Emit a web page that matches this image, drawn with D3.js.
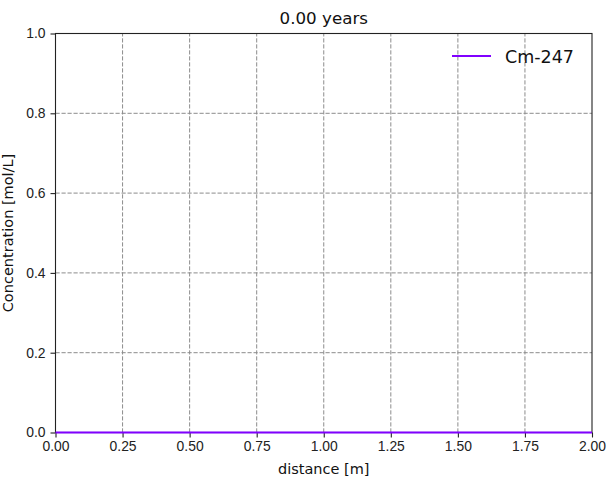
<!DOCTYPE html>
<html>
<head>
<meta charset="utf-8">
<script src="https://cdn.jsdelivr.net/npm/d3@7"></script>
<style>
  body { margin: 0; background: #fff; }
  svg { font-family: "DejaVu Sans", sans-serif; }
  .grid line { stroke: #8c8c8c; stroke-dasharray: 4.2,1.8; stroke-width: 1; }
  .tick text { font-size: 13.9px; fill: #222; }
</style>
</head>
<body>
<svg id="chart" width="611" height="482"></svg>
<script>
// data
var distance = [0.0, 0.25, 0.5, 0.75, 1.0, 1.25, 1.5, 1.75, 2.0];
var cm247 = [0, 0, 0, 0, 0, 0, 0, 0, 0];
var xTicks = [0.0, 0.25, 0.5, 0.75, 1.0, 1.25, 1.5, 1.75, 2.0];
var yTicks = [0.0, 0.2, 0.4, 0.6, 0.8, 1.0];
var title = '0.00 years';
var seriesName = 'Cm-247';

var margin = {left: 55.5, right: 19, top: 33.5, bottom: 49.5};
var svg = d3.select('#chart');
var W = 611, H = 482;

var x = d3.scaleLinear().domain([0, 2]).range([margin.left, W - margin.right]);
var y = d3.scaleLinear().domain([0, 1]).range([H - margin.bottom, margin.top]);

// gridlines
var grid = svg.append('g').attr('class', 'grid');
grid.selectAll('.gx')
    .data(xTicks.slice(1, -1)).enter().append('line')
    .attr('x1', d => x(d)).attr('x2', d => x(d))
    .attr('y1', y(0)).attr('y2', y(1));
grid.selectAll('.gy')
    .data(yTicks.slice(1, -1)).enter().append('line')
    .attr('y1', d => y(d)).attr('y2', d => y(d))
    .attr('x1', x(0)).attr('x2', x(2));

// axes
var xAxis = svg.append('g')
    .attr('transform', 'translate(0,' + y(0) + ')')
    .call(d3.axisBottom(x).tickValues(xTicks).tickFormat(d3.format('.2f')).tickSize(5).tickPadding(4));
var yAxis = svg.append('g')
    .attr('transform', 'translate(' + x(0) + ',0)')
    .call(d3.axisLeft(y).tickValues(yTicks).tickFormat(d3.format('.1f')).tickSize(5).tickPadding(5));
[xAxis, yAxis].forEach(function(a) {
    a.select('.domain').remove();
    a.selectAll('.tick line').attr('stroke', '#222').attr('stroke-width', 1.1);
});

// frame
svg.append('rect')
    .attr('x', x(0)).attr('y', y(1))
    .attr('width', x(2) - x(0)).attr('height', y(0) - y(1))
    .attr('fill', 'none').attr('stroke', '#222').attr('stroke-width', 1.1);

// series line, drawn over the frame
var line = d3.line().x((d, i) => x(distance[i])).y(d => y(d));
svg.append('path')
    .datum(cm247)
    .attr('d', line)
    .attr('fill', 'none')
    .attr('stroke', '#8000ff')
    .attr('stroke-width', 2.1);

// labels
svg.append('text')
    .attr('x', (x(0) + x(2)) / 2).attr('y', 24)
    .attr('text-anchor', 'middle').attr('font-size', 16.7).attr('fill', '#111')
    .text(title);
svg.append('text')
    .attr('x', (x(0) + x(2)) / 2).attr('y', 474)
    .attr('text-anchor', 'middle').attr('font-size', 14.5).attr('fill', '#111')
    .text('distance [m]');
svg.append('text')
    .attr('transform', 'translate(12.5,' + ((y(0) + y(1)) / 2) + ') rotate(-90)')
    .attr('text-anchor', 'middle').attr('font-size', 14.5).attr('fill', '#111')
    .text('Concentration [mol/L]');

// legend
var lg = svg.append('g');
lg.append('line')
    .attr('x1', 452).attr('x2', 491).attr('y1', 56).attr('y2', 56)
    .attr('stroke', '#8000ff').attr('stroke-width', 2.1);
lg.append('text')
    .attr('x', 505).attr('y', 62.5).attr('font-size', 17.5).attr('fill', '#111')
    .text(seriesName);
</script>
</body>
</html>
